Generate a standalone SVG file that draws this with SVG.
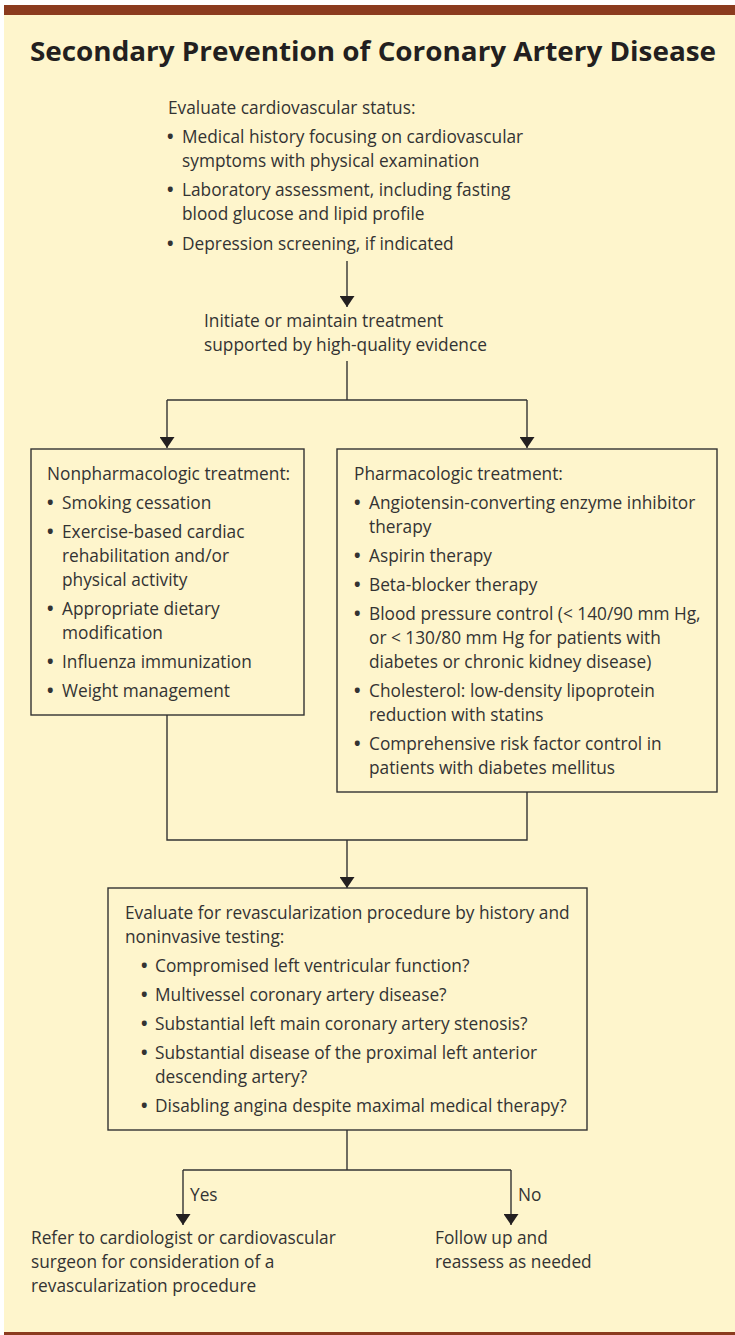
<svg xmlns="http://www.w3.org/2000/svg" width="735" height="1335" viewBox="0 0 735 1335">
<defs>
<marker id="ah" viewBox="0 0 11 15" refX="11" refY="7.5" markerWidth="11" markerHeight="15" markerUnits="userSpaceOnUse" orient="auto">
<path d="M0,0 L11,7.5 L0,15 Z" fill="#231f20"/>
</marker>
<style>
text{font-family:"Open Sans","Noto Sans",sans-serif;font-size:17.3px;fill:#333}
.b{font-weight:bold}
.title{font-size:26px;font-weight:bold;fill:#231f20}
.box{fill:none;stroke:#333;stroke-width:1.4}
.ln{fill:none;stroke:#333;stroke-width:1.4}
.ar{fill:none;stroke:#333;stroke-width:1.4;marker-end:url(#ah)}
</style>
</defs>
<rect x="0" y="0" width="735" height="1335" fill="#ffffff"/>
<rect x="4" y="5" width="731" height="1330" fill="#fef5cc"/>
<rect x="4" y="5" width="731" height="10" fill="#8b3b1e"/>
<rect x="4" y="1332" width="731" height="3" fill="#8b3b1e"/>
<text class="title" x="30" y="61" textLength="686" lengthAdjust="spacingAndGlyphs">Secondary Prevention of Coronary Artery Disease</text>

<g id="connectors">
<line class="ar" x1="347" y1="261" x2="347" y2="307"/>
<polyline class="ln" points="347,361 347,400"/>
<polyline class="ln" points="167,400 527,400"/>
<line class="ar" x1="167" y1="400" x2="167" y2="448"/>
<line class="ar" x1="527" y1="400" x2="527" y2="448"/>
<polyline class="ln" points="167,715 167,840 527,840 527,792"/>
<line class="ar" x1="347" y1="840" x2="347" y2="888"/>
<polyline class="ln" points="347,1130 347,1170"/>
<polyline class="ln" points="183,1170 511,1170"/>
<line class="ar" x1="183" y1="1170" x2="183" y2="1225"/>
<line class="ar" x1="511" y1="1170" x2="511" y2="1225"/>
<text x="190" y="1201">Yes</text>
<text x="518" y="1201">No</text>
</g>

<g id="evaluate">
<text x="168" y="114">Evaluate cardiovascular status:</text>
<text class="b" x="167" y="143">•</text><text x="182" y="143">Medical history focusing on cardiovascular</text>
<text x="182" y="167">symptoms with physical examination</text>
<text class="b" x="167" y="196">•</text><text x="182" y="196">Laboratory assessment, including fasting</text>
<text x="182" y="220">blood glucose and lipid profile</text>
<text class="b" x="167" y="250">•</text><text x="182" y="250">Depression screening, if indicated</text>
</g>

<g id="initiate">
<text x="204" y="327">Initiate or maintain treatment</text>
<text x="204" y="351">supported by high-quality evidence</text>
</g>

<g id="nonpharm">
<rect class="box" x="31" y="449" width="273" height="266"/>
<text x="47" y="480">Nonpharmacologic treatment:</text>
<text class="b" x="47" y="509">•</text><text x="62" y="509">Smoking cessation</text>
<text class="b" x="47" y="538">•</text><text x="62" y="538">Exercise-based cardiac</text>
<text x="62" y="562">rehabilitation and/or</text>
<text x="62" y="586">physical activity</text>
<text class="b" x="47" y="615">•</text><text x="62" y="615">Appropriate dietary</text>
<text x="62" y="639">modification</text>
<text class="b" x="47" y="668">•</text><text x="62" y="668">Influenza immunization</text>
<text class="b" x="47" y="697">•</text><text x="62" y="697">Weight management</text>
</g>

<g id="pharm">
<rect class="box" x="337" y="449" width="380" height="343"/>
<text x="354" y="480">Pharmacologic treatment:</text>
<text class="b" x="354" y="509">•</text><text x="369" y="509">Angiotensin-converting enzyme inhibitor</text>
<text x="369" y="533">therapy</text>
<text class="b" x="354" y="562">•</text><text x="369" y="562">Aspirin therapy</text>
<text class="b" x="354" y="591">•</text><text x="369" y="591">Beta-blocker therapy</text>
<text class="b" x="354" y="620">•</text><text x="369" y="620">Blood pressure control (&lt; 140/90 mm Hg,</text>
<text x="369" y="644">or &lt; 130/80 mm Hg for patients with</text>
<text x="369" y="668">diabetes or chronic kidney disease)</text>
<text class="b" x="354" y="697">•</text><text x="369" y="697">Cholesterol: low-density lipoprotein</text>
<text x="369" y="721">reduction with statins</text>
<text class="b" x="354" y="750">•</text><text x="369" y="750">Comprehensive risk factor control in</text>
<text x="369" y="774">patients with diabetes mellitus</text>
</g>

<g id="revasc">
<rect class="box" x="108" y="888" width="479" height="242"/>
<text x="125" y="919">Evaluate for revascularization procedure by history and</text>
<text x="125" y="943">noninvasive testing:</text>
<text class="b" x="141" y="972">•</text><text x="155" y="972">Compromised left ventricular function?</text>
<text class="b" x="141" y="1001">•</text><text x="155" y="1001">Multivessel coronary artery disease?</text>
<text class="b" x="141" y="1030">•</text><text x="155" y="1030">Substantial left main coronary artery stenosis?</text>
<text class="b" x="141" y="1059">•</text><text x="155" y="1059">Substantial disease of the proximal left anterior</text>
<text x="155" y="1083">descending artery?</text>
<text class="b" x="141" y="1112">•</text><text x="155" y="1112">Disabling angina despite maximal medical therapy?</text>
</g>

<g id="refer">
<text x="31" y="1244">Refer to cardiologist or cardiovascular</text>
<text x="31" y="1268">surgeon for consideration of a</text>
<text x="31" y="1292">revascularization procedure</text>
</g>

<g id="follow">
<text x="435" y="1244">Follow up and</text>
<text x="435" y="1268">reassess as needed</text>
</g>
</svg>
